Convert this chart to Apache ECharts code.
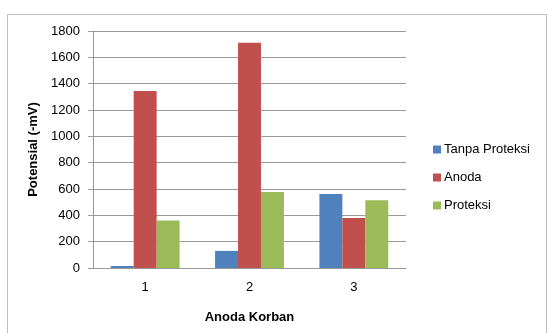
<!DOCTYPE html>
<html>
<head>
<meta charset="utf-8">
<script src="https://cdn.jsdelivr.net/npm/echarts@6/dist/echarts.min.js"></script>
<style>
  html, body { margin: 0; padding: 0; background: #fff; }
  #main { width: 549px; height: 333px; }
</style>
</head>
<body>
<div id="main"></div>
<script>
// data
var categories = ['1', '2', '3'];
var tanpaProteksi = [15, 130, 562];
var anoda = [1345, 1710, 380];
var proteksi = [360, 578, 514];

var chart = echarts.init(document.getElementById('main'), null, { renderer: 'canvas' });
var font = 'Liberation Sans';

var option = {
  animation: false,
  color: ['#4F81BD', '#C0504D', '#9BBB59'],
  graphic: [{
    type: 'rect',
    shape: { x: 7.5, y: 14.5, width: 539, height: 330 },
    style: { fill: 'none', stroke: '#bdbdbd', lineWidth: 1 }
  }],
  grid: { left: 93, right: 143, top: 31, bottom: 65 },
  legend: {
    orient: 'vertical',
    left: 428,
    top: 138,
    itemWidth: 8,
    itemHeight: 8,
    itemGap: 15,
    icon: 'rect',
    textStyle: { fontFamily: font, fontSize: 13, color: '#000', padding: [0, 0, 0, -2] },
    data: ['Tanpa Proteksi', 'Anoda', 'Proteksi']
  },
  xAxis: {
    type: 'category',
    data: categories,
    name: 'Anoda Korban',
    nameLocation: 'middle',
    nameGap: 43,
    nameTextStyle: { fontFamily: font, fontSize: 13, fontWeight: 'bold', color: '#000' },
    axisLine: { lineStyle: { color: '#9a9a9a' } },
    axisTick: { show: false },
    axisLabel: { fontFamily: font, fontSize: 13, color: '#000', margin: 13 }
  },
  yAxis: {
    type: 'value',
    min: 0,
    max: 1800,
    interval: 200,
    name: 'Potensial (-mV)',
    nameLocation: 'middle',
    nameGap: 52,
    nameTextStyle: { fontFamily: font, fontSize: 13, fontWeight: 'bold', color: '#000' },
    axisLine: { show: true, lineStyle: { color: '#9a9a9a' } },
    axisTick: { show: true, length: 5, lineStyle: { color: '#9a9a9a' } },
    axisLabel: {
      fontFamily: font, fontSize: 13, color: '#000', margin: 13,
      formatter: function (v) { return String(v); }
    },
    splitLine: { lineStyle: { color: '#9a9a9a' } }
  },
  series: [
    { name: 'Tanpa Proteksi', type: 'bar', data: tanpaProteksi, barGap: '0%', barCategoryGap: '34%' },
    { name: 'Anoda', type: 'bar', data: anoda, barGap: '0%', barCategoryGap: '34%' },
    { name: 'Proteksi', type: 'bar', data: proteksi, barGap: '0%', barCategoryGap: '34%' }
  ]
};

chart.setOption(option);
</script>
</body>
</html>
